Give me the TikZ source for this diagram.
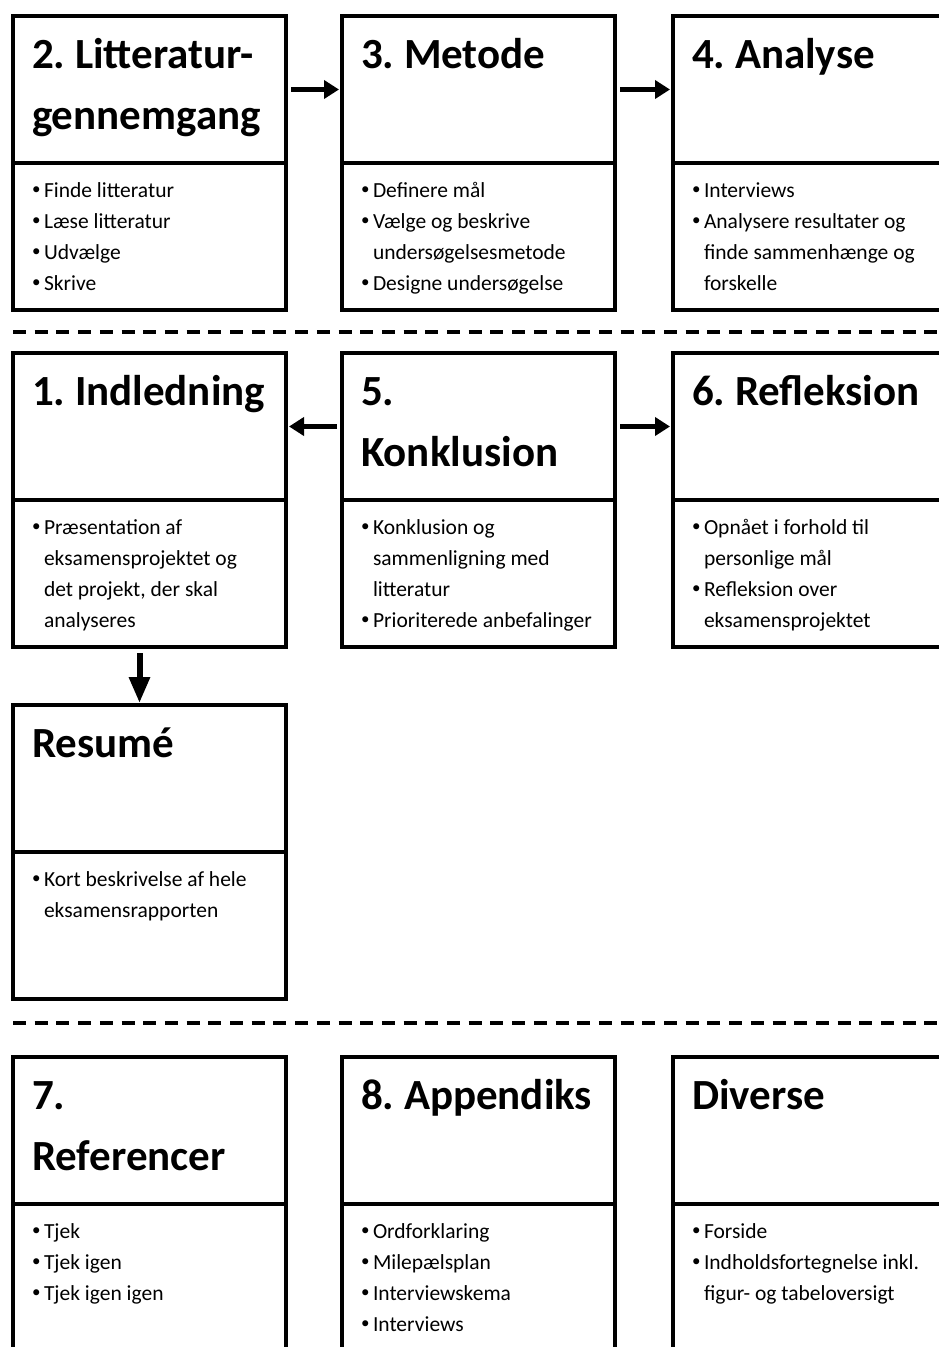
\documentclass[tikz,border=0pt]{standalone}
\usepackage{fontspec}
\setmainfont{Carlito}
\usepackage{tikz}
\usetikzlibrary{positioning,arrows.meta}
\hfuzz=80pt
\hbadness=10000
\newcommand\overskrift{\fontsize{43}{61}\selectfont\bfseries\frenchspacing}
\newcommand\punktskrift{\fontsize{21.5}{31}\selectfont\frenchspacing}
\newcommand\linje[1]{\mbox{\spaceskip=0pt\xspaceskip=0pt #1}}
\newcommand\pkt[1]{\makebox[12pt][l]{\raisebox{2.5pt}{\fontsize{17}{17}\selectfont\textbullet}}\linje{#1}}
\newcommand\fort[1]{\hspace*{12pt}\linje{#1}}
\tikzset{
  hoved/.style={draw, line width=4.5pt, rectangle, anchor=north west, outer sep=0pt,
                inner xsep=19pt, inner ysep=0pt, text width=235pt,
                text height=52pt, text depth=95pt, font=\overskrift, align=flush left},
  punkter/.style={draw, line width=4.5pt, rectangle, outer sep=0pt,
                  inner xsep=19pt, inner ysep=0pt, text width=235pt,
                  text height=34pt, text depth=113pt, font=\punktskrift, align=flush left},
  pil/.style={line width=5pt, -{Triangle[length=15pt,width=18pt]},
              shorten <=5pt, shorten >=3pt},
  nedpil/.style={line width=6pt, -{Triangle[length=26pt,width=20pt]},
                 shorten <=6pt, shorten >=2pt},
  skille/.style={line width=3.8pt, dash pattern=on 13pt off 8.7pt},
}
\begin{document}
\begin{tikzpicture}[x=1pt,y=-1pt]
  \useasboundingbox (0,0) rectangle (939,1347);
  \clip (0,0) rectangle (939,1347);
  % ---- raekke 1 ----
  \node[hoved] (lit) at (13,16) {\linje{2. Litteratur-}\\ \linje{gennemgang}};
  \node[punkter, below=0pt of lit] (litpkt) {\pkt{Finde litteratur}\\ \pkt{Læse litteratur}\\
    \pkt{Udvælge}\\ \pkt{Skrive}};
  \node[hoved] (met) at (342,16) {\linje{3. Metode}};
  \node[punkter, below=0pt of met] (metpkt) {\pkt{Definere mål}\\ \pkt{Vælge og beskrive}\\
    \fort{undersøgelsesmetode}\\ \pkt{Designe undersøgelse}};
  \node[hoved] (ana) at (673,16) {\linje{4. Analyse}};
  \node[punkter, below=0pt of ana] (anapkt) {\pkt{Interviews}\\ \pkt{Analysere resultater og}\\
    \fort{finde sammenhænge og}\\ \fort{forskelle}};
  \draw[pil] (lit.east) -- (met.west);
  \draw[pil] (met.east) -- (ana.west);
  \draw[skille] (13,332) -- (939,332);
  % ---- raekke 2 ----
  \node[hoved] (indl) at (13,353) {\linje{1. Indledning}};
  \node[punkter, below=0pt of indl] (indlpkt) {\pkt{Præsentation af}\\
    \fort{eksamensprojektet og}\\ \fort{det projekt, der skal}\\ \fort{analyseres}};
  \node[hoved] (konk) at (342,353) {\linje{5.}\\ \linje{Konklusion}};
  \node[punkter, below=0pt of konk] (konkpkt) {\pkt{Konklusion og}\\
    \fort{sammenligning med}\\ \fort{litteratur}\\ \pkt{Prioriterede anbefalinger}};
  \node[hoved] (refl) at (673,353) {\linje{6. Refleksion}};
  \node[punkter, below=0pt of refl] (reflpkt) {\pkt{Opnået i forhold til}\\
    \fort{personlige mål}\\ \pkt{Refleksion over}\\ \fort{eksamensprojektet}};
  \draw[pil] (konk.west) -- (indl.east);
  \draw[pil] (konk.east) -- (refl.west);
  % resume under indledning
  \node[hoved] (res) at (13,705) {\linje{Resumé}};
  \node[punkter, below=0pt of res] (respkt) {\pkt{Kort beskrivelse af hele}\\
    \fort{eksamensrapporten}};
  \draw[nedpil] ([xshift=-10pt]indlpkt.south) -- ([xshift=-10pt]res.north);
  \draw[skille] (13,1023) -- (939,1023);
  % ---- raekke 3 ----
  \node[hoved] (refr) at (13,1057) {\linje{7.}\\ \linje{Referencer}};
  \node[punkter, below=0pt of refr] (refrpkt) {\pkt{Tjek}\\ \pkt{Tjek igen}\\ \pkt{Tjek igen igen}};
  \node[hoved] (app) at (342,1057) {\linje{8. Appendiks}};
  \node[punkter, below=0pt of app] (apppkt) {\pkt{Ordforklaring}\\ \pkt{Milepælsplan}\\
    \pkt{Interviewskema}\\ \pkt{Interviews}};
  \node[hoved] (div) at (673,1057) {\linje{Diverse}};
  \node[punkter, below=0pt of div] (divpkt) {\pkt{Forside}\\
    \pkt{Indholdsfortegnelse inkl.}\\ \fort{figur- og tabeloversigt}};
\end{tikzpicture}
\end{document}
